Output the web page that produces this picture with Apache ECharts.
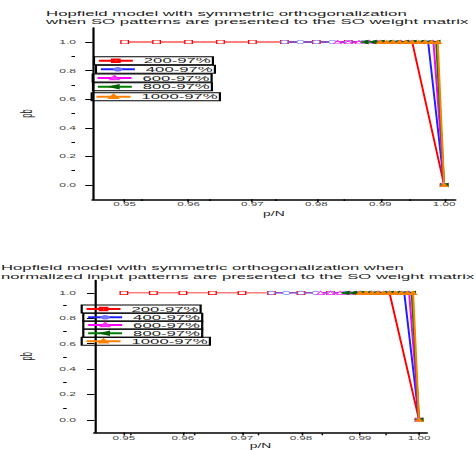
<!DOCTYPE html>
<html>
<head>
<meta charset="utf-8">
<script src="https://cdn.jsdelivr.net/npm/echarts@6/dist/echarts.min.js"></script>
<style>
html, body { margin: 0; padding: 0; background: #fff; overflow: hidden; width: 476px; height: 450px; }
#chart { height: 450px; transform-origin: 0 0; }
</style>
</head>
<body>
<div id="chart"></div>
<script>
// ---- data (p/N on x, pb on y) ----
const seriesNames = ['200-97%', '400-97%', '600-97%', '800-97%', '1000-97%'];

const pN200  = [0.95, 0.955, 0.96, 0.965, 0.97, 0.975, 0.98, 0.985, 0.99, 0.995, 1.0];
const pN400  = [0.975, 0.9775, 0.98, 0.9825, 0.985, 0.9875, 0.99, 0.9925, 0.995, 0.9975, 1.0];
const pN600  = [0.98333, 0.985, 0.98667, 0.98833, 0.99, 0.99167, 0.99333, 0.995, 0.99667, 0.99833, 1.0];
const pN800  = [0.9875, 0.98875, 0.99, 0.99125, 0.9925, 0.99375, 0.995, 0.99625, 0.9975, 0.99875, 1.0];
const pN1000 = [0.99, 0.991, 0.992, 0.993, 0.994, 0.995, 0.996, 0.997, 0.998, 0.999, 1.0];

// panel 1: SO patterns
const pbTop200  = [1, 1, 1, 1, 1, 1, 1, 1, 1, 1, 0];
const pbTop400  = [1, 1, 1, 1, 1, 1, 1, 1, 1, 1, 0];
const pbTop600  = [1, 1, 1, 1, 1, 1, 1, 1, 1, 1, 0];
const pbTop800  = [1, 1, 1, 1, 1, 1, 1, 1, 1, 1, 0];
const pbTop1000 = [1, 1, 1, 1, 1, 1, 1, 1, 1, 1, 0];

// panel 2: normalized input patterns
const pbBot200  = [1, 1, 1, 1, 1, 1, 1, 1, 1, 1, 0];
const pbBot400  = [1, 1, 1, 1, 1, 1, 1, 1, 1, 1, 0];
const pbBot600  = [1, 1, 1, 1, 1, 1, 1, 1, 1, 1, 0];
const pbBot800  = [1, 1, 1, 1, 1, 1, 1, 1, 1, 1, 0];
const pbBot1000 = [1, 1, 1, 1, 1, 1, 1, 1, 1, 1, 0];

// tick values
const xMajorTicks = [0.95, 0.96, 0.97, 0.98, 0.99, 1.00];
const xMinorTicks = [0.955, 0.965, 0.975, 0.985, 0.995];
const yMajorTicks = [0.0, 0.2, 0.4, 0.6, 0.8, 1.0];
const yMinorTicks = [0.1, 0.3, 0.5, 0.7, 0.9];

const titleTop = 'Hopfield model with symmetric orthogonalization\nwhen SO patterns are presented to the SO weight matrix';
const titleBot = 'Hopfield model with symmetric orthogonalization when\nnormalized input patterns are presented to the SO weight matrix';

// ---- layout: the figure is horizontally stretched by S ----
const S = 2.2;
const u = v => v / S;   // picture x-pixels -> chart units
const chartDiv = document.getElementById('chart');
chartDiv.style.width = (476 / S) + 'px';
chartDiv.style.transform = 'scaleX(' + S + ')';

const FONT = 'Liberation Sans, Arial, sans-serif';
const styles = [
  { line: '#ff0000', fill: '#ffffff', border: '#ff0000', symbol: 'rect', rotate: 0 },
  { line: '#2020ff', fill: '#ffffff', border: '#7070ff', symbol: 'circle', rotate: 0 },
  { line: '#ff00ff', fill: '#ffffff', border: '#ff30ff', symbol: 'triangle', rotate: 0 },
  { line: '#008000', fill: '#006000', border: '#006000', symbol: 'triangle', rotate: 90 },
  { line: '#ff8000', fill: '#ff8000', border: '#ff8000', symbol: 'triangle', rotate: 0 }
];

function makeSeries(idx, xs, ys, axisIdx) {
  const s = styles[idx];
  return {
    name: seriesNames[idx],
    type: 'line',
    xAxisIndex: axisIdx,
    yAxisIndex: axisIdx,
    data: xs.map((x, i) => [x, ys[i]]),
    symbol: s.symbol,
    symbolRotate: s.rotate,
    symbolSize: 3.4,
    showAllSymbol: true,
    lineStyle: { color: s.line, width: 0.9 },
    itemStyle: { color: s.fill, borderColor: s.border, borderWidth: 0.6 },
    emphasis: { disabled: true },
    animation: false
  };
}

function mainX(grid, max, nameGap, labelMargin) {
  return {
    gridIndex: grid, type: 'value', position: 'bottom', min: 0.945, max: max,
    axisLine: { show: true, onZero: false, lineStyle: { color: '#000', width: 1.5 } },
    axisTick: { show: true, length: 3, customValues: xMajorTicks, lineStyle: { color: '#000', width: 0.7 } },
    axisLabel: { customValues: xMajorTicks, formatter: v => v.toFixed(2), fontSize: 5.3, margin: labelMargin, color: '#444', fontFamily: FONT },
    splitLine: { show: false },
    name: 'p/N', nameLocation: 'middle', nameGap: nameGap,
    nameTextStyle: { fontSize: 6.3, color: '#222', fontFamily: FONT }
  };
}
function minorX(grid, max) {
  return {
    gridIndex: grid, type: 'value', position: 'bottom', min: 0.945, max: max,
    axisLine: { show: false, onZero: false },
    axisTick: { show: true, length: 1.8, customValues: xMinorTicks, lineStyle: { color: '#000', width: 0.7 } },
    axisLabel: { show: false },
    splitLine: { show: false }
  };
}
function mainY(grid, nameGap, labelMargin) {
  return {
    gridIndex: grid, type: 'value', position: 'left', min: -0.1, max: 1.1,
    axisLine: { show: true, onZero: false, lineStyle: { color: '#000', width: 1 } },
    axisTick: { show: true, length: 3.4, customValues: yMajorTicks, lineStyle: { color: '#000', width: 1 } },
    axisLabel: { customValues: yMajorTicks, formatter: v => v.toFixed(1), fontSize: 5.5, margin: labelMargin, color: '#444', fontFamily: FONT },
    splitLine: { show: false },
    name: 'pb', nameLocation: 'middle', nameGap: nameGap, nameRotate: 90,
    nameTextStyle: { fontSize: 7.5, color: '#222', fontFamily: FONT }
  };
}
function minorY(grid) {
  return {
    gridIndex: grid, type: 'value', position: 'left', min: -0.1, max: 1.1,
    axisLine: { show: false, onZero: false },
    axisTick: { show: true, length: 1.6, customValues: yMinorTicks, lineStyle: { color: '#000', width: 1 } },
    axisLabel: { show: false },
    splitLine: { show: false }
  };
}

function makeLegend(idx, left, top) {
  return {
    data: [seriesNames[idx]],
    orient: 'vertical',
    left: u(left), top: top,
    padding: [0, 1, 0, 1.2],
    borderColor: '#000', borderWidth: 1,
    itemWidth: u(34), itemHeight: 3,
    selectedMode: false,
    textStyle: { fontSize: 7.6, lineHeight: 6.4, color: '#222', fontFamily: FONT }
  };
}

const grid1 = { left: u(75), top: 27.7, width: u(380), height: 171.6 };
const grid2 = { left: u(66.7), top: 280.2, width: u(360), height: 153.2 };

const chart = echarts.init(chartDiv, null, { renderer: 'svg' });
const option = {
  animation: false,
  backgroundColor: '#fff',
  title: [
    { text: titleTop, left: u(46), top: 8.6, padding: 0,
      textStyle: { fontSize: 7.65, lineHeight: 8.6, fontWeight: 'normal', color: '#222', fontFamily: FONT } },
    { text: titleBot, left: u(1), top: 263.2, padding: 0,
      textStyle: { fontSize: 7.6, lineHeight: 8.6, fontWeight: 'normal', color: '#222', fontFamily: FONT } }
  ],
  // grids 2 and 3 overlay 0 and 1 and only carry the minor ticks
  grid: [grid1, grid2, Object.assign({}, grid1), Object.assign({}, grid2)],
  xAxis: [mainX(0, 1.0017, 11, 2), mainX(1, 1.0013, 10.5, 3), minorX(2, 1.0017), minorX(3, 1.0013)],
  yAxis: [mainY(0, 17.2, u(16.7)), mainY(1, 15.7, u(18.4)), minorY(2), minorY(3)],
  legend: [
    makeLegend(0, 94, 56.7), makeLegend(1, 96, 65.3), makeLegend(2, 92.7, 74), makeLegend(3, 93, 82.7), makeLegend(4, 91.7, 92.7),
    makeLegend(0, 81.7, 305), makeLegend(1, 83.3, 313.3), makeLegend(2, 83.3, 321), makeLegend(3, 83.3, 329.3), makeLegend(4, 81.7, 337.3)
  ],
  series: [
    makeSeries(0, pN200, pbTop200, 0),
    makeSeries(1, pN400, pbTop400, 0),
    makeSeries(2, pN600, pbTop600, 0),
    makeSeries(3, pN800, pbTop800, 0),
    makeSeries(4, pN1000, pbTop1000, 0),
    makeSeries(0, pN200, pbBot200, 1),
    makeSeries(1, pN400, pbBot400, 1),
    makeSeries(2, pN600, pbBot600, 1),
    makeSeries(3, pN800, pbBot800, 1),
    makeSeries(4, pN1000, pbBot1000, 1)
  ]
};
chart.setOption(option);
</script>
</body>
</html>
